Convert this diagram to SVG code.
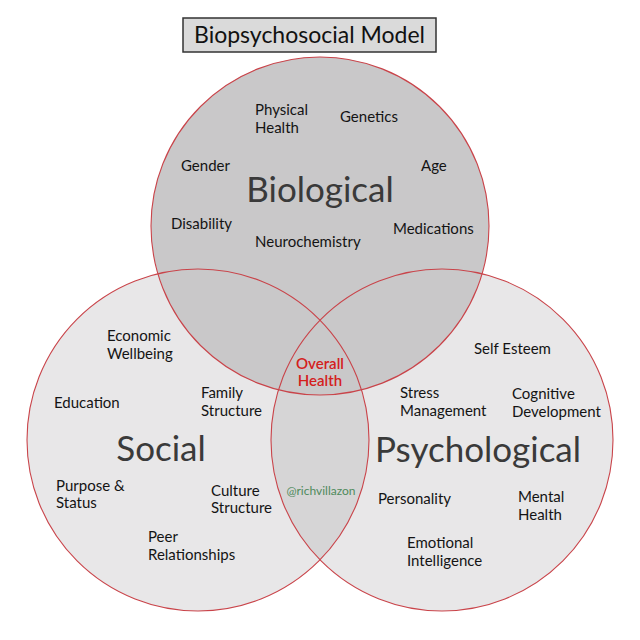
<svg xmlns="http://www.w3.org/2000/svg" width="640" height="640" viewBox="0 0 640 640">
<style>
.t{font-family:Lato,"Open Sans","Liberation Sans",sans-serif;font-size:15px;fill:#141414}
.big{font-family:Lato,"Open Sans","Liberation Sans",sans-serif;font-size:35px;fill:#3a3a3a}
.ring{fill:none;stroke:#c9444a;stroke-width:1.1}
</style>
<defs>
<clipPath id="clipL"><circle cx="198" cy="440" r="171"/></clipPath>
</defs>
<rect width="640" height="640" fill="#ffffff"/>
<g id="title">
<rect x="183" y="18" width="253" height="34" fill="#dadada" stroke="#333333" stroke-width="1.5"/>
<text x="309.5" y="43" text-anchor="middle" style="font-family:Lato,'Open Sans','Liberation Sans',sans-serif;font-size:23px;fill:#111">Biopsychosocial Model</text>
</g>
<g id="fills">
<circle cx="198" cy="440" r="171" fill="#e8e7e8"/>
<circle cx="442" cy="440" r="171" fill="#e8e7e8"/>
<circle cx="442" cy="440" r="171" fill="#d6d5d6" clip-path="url(#clipL)"/>
<circle cx="320" cy="226" r="169" fill="#c9c8c9"/>
</g>
<g id="connectors">
<circle class="ring" cx="198" cy="440" r="171"/>
<circle class="ring" cx="442" cy="440" r="171"/>
<circle class="ring" cx="320" cy="226" r="169"/>
</g>
<g id="biological">
<text class="big" x="320" y="202" text-anchor="middle">Biological</text>
<text class="t" x="255" y="115">Physical</text>
<text class="t" x="255" y="133">Health</text>
<text class="t" x="340" y="122">Genetics</text>
<text class="t" x="181" y="171">Gender</text>
<text class="t" x="421" y="171">Age</text>
<text class="t" x="171" y="229">Disability</text>
<text class="t" x="255" y="247">Neurochemistry</text>
<text class="t" x="393" y="234">Medications</text>
</g>
<g id="social">
<text class="big" x="161" y="461" text-anchor="middle">Social</text>
<text class="t" x="107" y="341">Economic</text>
<text class="t" x="107" y="359">Wellbeing</text>
<text class="t" x="54" y="408">Education</text>
<text class="t" x="201" y="398">Family</text>
<text class="t" x="201" y="416">Structure</text>
<text class="t" x="56" y="491">Purpose &amp;</text>
<text class="t" x="56" y="508">Status</text>
<text class="t" x="211" y="496">Culture</text>
<text class="t" x="211" y="513">Structure</text>
<text class="t" x="148" y="542">Peer</text>
<text class="t" x="148" y="560">Relationships</text>
</g>
<g id="psychological">
<text class="big" x="478" y="462" text-anchor="middle">Psychological</text>
<text class="t" x="474" y="354">Self Esteem</text>
<text class="t" x="400" y="398">Stress</text>
<text class="t" x="400" y="416">Management</text>
<text class="t" x="512" y="399">Cognitive</text>
<text class="t" x="512" y="417">Development</text>
<text class="t" x="378" y="504">Personality</text>
<text class="t" x="518" y="502">Mental</text>
<text class="t" x="518" y="520">Health</text>
<text class="t" x="407" y="548">Emotional</text>
<text class="t" x="407" y="566">Intelligence</text>
</g>
<g id="overall">
<text class="t" x="320" y="369" text-anchor="middle" style="fill:#d4201c;font-weight:600">Overall</text>
<text class="t" x="320" y="386" text-anchor="middle" style="fill:#d4201c;font-weight:600">Health</text>
</g>
<g id="watermark">
<text x="321" y="495" text-anchor="middle" style="font-family:Lato,'Open Sans','Liberation Sans',sans-serif;font-size:12px;fill:#4f8a5c">@richvillazon</text>
</g>
</svg>
